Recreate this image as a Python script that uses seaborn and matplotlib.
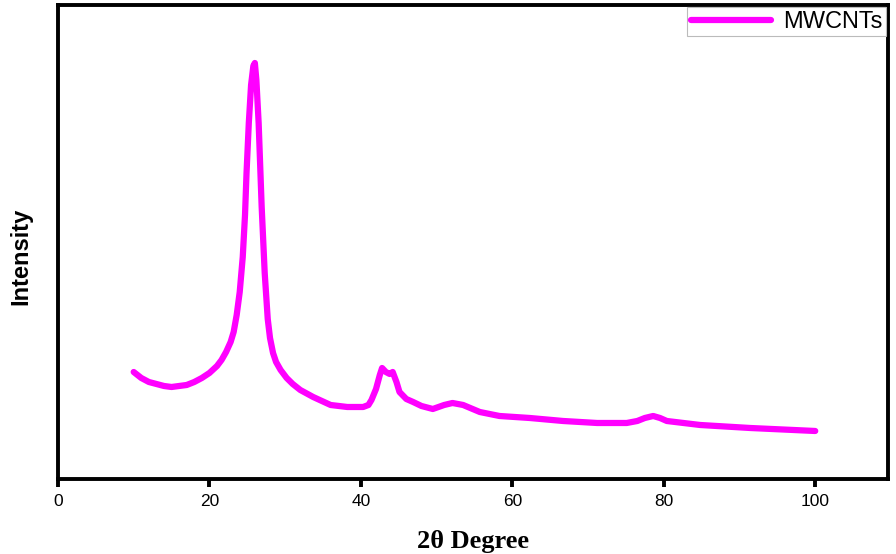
import numpy as np
import pandas as pd
import seaborn as sns
from matplotlib import pyplot as plt

# XRD pattern of MWCNTs (arbitrary units)
two_theta = [10.0, 11.0, 12.0, 13.0, 14.0, 15.0, 16.0, 17.0, 18.0, 19.0,
             20.0, 21.0, 21.6, 22.2, 22.8, 23.2, 23.6, 24.0, 24.4, 24.7,
             24.9, 25.2, 25.5, 25.8, 26.0, 26.2, 26.5, 26.9, 27.3, 27.7,
             28.0, 28.4, 28.8, 29.4, 30.2, 31.0, 32.0, 33.7, 36.0, 38.2,
             40.3, 41.0, 41.4, 42.0, 42.5, 42.8, 43.3, 43.8, 44.2, 44.7,
             45.1, 46.0, 46.9, 48.0, 49.5, 51.0, 52.1, 53.5, 55.7, 58.3,
             62.3, 66.7, 71.2, 75.1, 76.5, 77.5, 78.6, 79.5, 80.4, 84.8,
             91.4, 100.0]
intensity = [1070, 1010, 970, 950, 930, 920, 930, 940, 970, 1010,
             1060, 1130, 1190, 1270, 1370, 1470, 1640, 1870, 2220, 2640,
             3060, 3560, 3940, 4130, 4160, 3990, 3560, 2720, 2060, 1600,
             1410, 1260, 1170, 1090, 1010, 950, 890, 820, 740, 720,
             720, 740, 790, 900, 1040, 1110, 1070, 1050, 1070, 970,
             870, 800, 770, 730, 700, 740, 760, 740, 670, 630,
             610, 580, 560, 560, 580, 610, 630, 610, 580, 540,
             510, 480]

df = pd.DataFrame({"two_theta": two_theta, "intensity": intensity})

sns.set_style("ticks")
plt.rcParams['font.family'] = ['Liberation Sans', 'DejaVu Sans']
plt.rcParams['text.color'] = 'black'
plt.rcParams['axes.labelcolor'] = 'black'
plt.rcParams['xtick.color'] = 'black'

fig = plt.figure(figsize=(8.96, 5.54), dpi=100)
ax = fig.add_axes([0.0647, 0.1354, 0.9263, 0.8556])

sns.lineplot(data=df, x="two_theta", y="intensity", ax=ax, color="#ff00ff",
             linewidth=4.5, label="MWCNTs")

ax.set_xlim(0, 109.6)
ax.set_ylim(0, 4740)
ax.set_xticks([0, 20, 40, 60, 80, 100])
ax.set_yticks([])
ax.tick_params(axis="x", direction="out", length=6, width=2.8, labelsize=12.5,
               pad=5, colors="black")
for side in ["left", "right", "top", "bottom"]:
    ax.spines[side].set_visible(True)
    ax.spines[side].set_linewidth(2.8)
    ax.spines[side].set_color("black")

ax.set_xlabel("2θ Degree", fontsize=19, fontweight="bold",
              family=["Liberation Serif", "DejaVu Serif"], labelpad=15)
ax.set_ylabel("Intensity", fontsize=17, fontweight="bold")
ax.yaxis.set_label_coords(-0.031, 0.47)

leg = ax.legend(loc="upper right", bbox_to_anchor=(1, 1), borderaxespad=0.1,
                fancybox=False, fontsize=17, handlelength=3.4,
                handletextpad=0.5, borderpad=0.15,
                edgecolor="#bbbbbb", framealpha=1)
leg.get_frame().set_linewidth(0.8)
for t in leg.get_texts():
    t.set_color("black")

plt.savefig("out.png", dpi=100)
